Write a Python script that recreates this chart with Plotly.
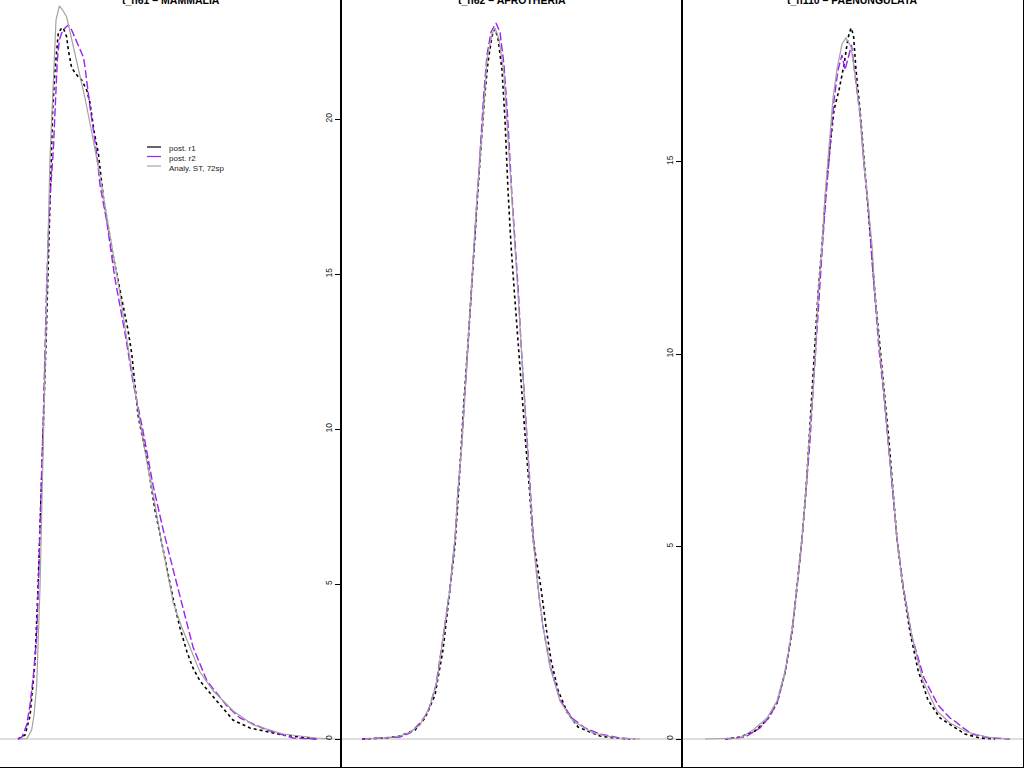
import plotly.graph_objects as go

# ---------------- data ----------------
titles = ["t_n61 – MAMMALIA", "t_n62 – AFROTHERIA", "t_n110 – PAENUNGULATA"]
legend_labels = ["post. r1", "post. r2", "Analy. ST, 72sp"]
ticks_afro = [0, 5, 10, 15, 20]
ticks_paen = [0, 5, 10, 15]

# Panel 1: MAMMALIA
mam_r1_x = [1.654, 1.675, 1.690, 1.705, 1.714, 1.725, 1.730, 1.738, 1.745, 1.750, 1.758, 1.765, 1.770,
            1.775, 1.785, 1.790, 1.800, 1.805, 1.815, 1.835, 1.845, 1.860, 1.870, 1.883, 1.895, 1.910,
            1.924, 1.939, 1.954, 1.969, 1.984, 1.995, 2.005, 2.014, 2.026, 2.040, 2.053, 2.065, 2.089,
            2.119, 2.140, 2.161, 2.179, 2.200, 2.230, 2.251, 2.275, 2.299, 2.350, 2.395, 2.449, 2.500, 2.551]
mam_r1_y = [0.000, 0.016, 0.092, 0.308, 0.604, 0.996, 1.252, 1.584, 1.936, 2.156, 2.516, 2.676, 2.756,
            2.824, 2.844, 2.844, 2.808, 2.756, 2.684, 2.648, 2.636, 2.596, 2.544, 2.424, 2.344, 2.168,
            2.056, 1.936, 1.836, 1.740, 1.636, 1.544, 1.396, 1.296, 1.216, 1.132, 1.016, 0.916, 0.760,
            0.564, 0.444, 0.348, 0.284, 0.232, 0.184, 0.152, 0.112, 0.076, 0.044, 0.032, 0.016, 0.008, 0.000]

mam_r2_x = [1.654, 1.666, 1.680, 1.690, 1.700, 1.710, 1.715, 1.720, 1.725, 1.730, 1.735, 1.740, 1.745,
            1.750, 1.760, 1.765, 1.768, 1.772, 1.778, 1.785, 1.795, 1.805, 1.815, 1.825, 1.840, 1.850,
            1.855, 1.862, 1.870, 1.880, 1.890, 1.900, 1.920, 1.945, 1.975, 1.999, 2.029, 2.059, 2.089,
            2.119, 2.149, 2.179, 2.221, 2.281, 2.320, 2.401, 2.479, 2.551]
mam_r2_y = [0.000, 0.008, 0.056, 0.136, 0.252, 0.408, 0.604, 0.800, 1.072, 1.288, 1.584, 1.820, 2.016,
            2.164, 2.356, 2.516, 2.608, 2.716, 2.796, 2.824, 2.844, 2.856, 2.836, 2.804, 2.756, 2.728,
            2.688, 2.608, 2.528, 2.436, 2.344, 2.216, 2.072, 1.840, 1.624, 1.428, 1.232, 1.016, 0.840,
            0.680, 0.524, 0.368, 0.232, 0.132, 0.084, 0.036, 0.004, 0.000]

mam_st_x = [1.660, 1.681, 1.695, 1.702, 1.710, 1.720, 1.730, 1.740, 1.750, 1.758, 1.763, 1.768, 1.778,
            1.786, 1.800, 1.815, 1.835, 1.855, 1.875, 1.900, 1.920, 1.940, 1.960, 1.980, 2.000, 2.020,
            2.040, 2.060, 2.080, 2.100, 2.120, 2.145, 2.170, 2.200, 2.240, 2.300, 2.360, 2.450, 2.550, 2.590]
mam_st_y = [0.000, 0.002, 0.036, 0.096, 0.212, 0.604, 1.192, 1.780, 2.328, 2.564, 2.760, 2.876, 2.932,
            2.920, 2.888, 2.800, 2.680, 2.564, 2.428, 2.252, 2.092, 1.936, 1.780, 1.604, 1.428, 1.268,
            1.112, 0.976, 0.820, 0.680, 0.544, 0.448, 0.368, 0.268, 0.192, 0.112, 0.056, 0.020, 0.004, 0.000]

# Panel 2: AFROTHERIA
afr_r1_x = [0.821, 0.844, 0.859, 0.874, 0.884, 0.894, 0.902, 0.909, 0.914, 0.917, 0.920, 0.923, 0.927,
            0.930, 0.933, 0.9365, 0.940, 0.9435, 0.947, 0.951, 0.954, 0.957, 0.961, 0.964, 0.967, 0.970,
            0.9735, 0.977, 0.981, 0.9845, 0.9885, 0.992, 1.000, 1.005, 1.010, 1.017, 1.026, 1.037,
            1.049, 1.059, 1.074, 1.089]
afr_r1_y = [0.000, 0.032, 0.097, 0.290, 0.677, 1.419, 2.871, 4.742, 6.258, 7.710, 9.484, 10.935, 12.774,
            14.355, 15.935, 17.516, 19.097, 20.677, 21.839, 22.677, 22.903, 22.613, 21.581, 19.968, 17.710,
            15.935, 14.355, 12.774, 11.194, 9.613, 8.032, 6.452, 4.871, 3.613, 2.548, 1.581, 0.871, 0.387,
            0.226, 0.097, 0.032, 0.000]

afr_r2_x = [0.821, 0.839, 0.859, 0.869, 0.879, 0.887, 0.895, 0.902, 0.909, 0.914, 0.917, 0.921, 0.924,
            0.927, 0.930, 0.933, 0.936, 0.9395, 0.9425, 0.946, 0.950, 0.955, 0.959, 0.963, 0.9665, 0.971,
            0.9743, 0.9775, 0.980, 0.9833, 0.986, 0.9893, 0.9925, 0.997, 1.002, 1.009, 1.019, 1.031,
            1.044, 1.059, 1.079, 1.094]
afr_r2_y = [0.000, 0.032, 0.065, 0.194, 0.516, 0.871, 1.742, 3.258, 4.871, 6.452, 8.032, 9.613, 11.194,
            12.774, 14.355, 15.935, 17.516, 19.097, 20.677, 22.065, 22.806, 23.097, 22.806, 21.742, 20.129,
            17.516, 15.935, 14.355, 12.774, 11.194, 9.613, 8.032, 6.452, 4.871, 3.613, 2.387, 1.258, 0.677,
            0.355, 0.161, 0.032, 0.000]

afr_st_x = [0.824, 0.849, 0.859, 0.869, 0.879, 0.889, 0.896, 0.902, 0.909, 0.914, 0.917, 0.921, 0.924,
            0.927, 0.930, 0.933, 0.936, 0.940, 0.943, 0.946, 0.951, 0.954, 0.958, 0.963, 0.966, 0.971,
            0.974, 0.977, 0.980, 0.983, 0.986, 0.989, 0.992, 0.997, 1.002, 1.009, 1.019, 1.032, 1.052,
            1.076, 1.099]
afr_st_y = [0.000, 0.048, 0.097, 0.226, 0.452, 1.065, 1.871, 3.290, 4.871, 6.452, 8.032, 9.613, 11.194,
            12.774, 14.355, 15.935, 17.516, 19.097, 20.677, 21.935, 22.742, 22.935, 22.581, 21.452, 19.871,
            17.516, 15.935, 14.355, 12.774, 11.194, 9.613, 8.032, 6.452, 4.871, 3.613, 2.323, 1.226, 0.581,
            0.194, 0.032, 0.000]

# Panel 3: PAENUNGULATA
pae_r1_x = [0.543, 0.558, 0.573, 0.585, 0.595, 0.603, 0.610, 0.615, 0.620, 0.624, 0.627, 0.6305, 0.633,
            0.636, 0.640, 0.6435, 0.648, 0.652, 0.657, 0.662, 0.666, 0.669, 0.6715, 0.674, 0.678, 0.682,
            0.686, 0.6895, 0.6935, 0.698, 0.703, 0.707, 0.711, 0.715, 0.721, 0.728, 0.736, 0.746, 0.758,
            0.773, 0.783, 0.798, 0.813]
pae_r1_y = [0.000, 0.052, 0.208, 0.494, 0.935, 1.714, 2.753, 3.922, 5.195, 6.468, 7.740, 9.013, 10.286,
            11.558, 12.831, 14.104, 15.377, 16.338, 16.857, 17.506, 18.208, 18.468, 18.286, 17.377, 16.338,
            14.987, 13.844, 12.701, 11.403, 10.234, 8.805, 7.740, 6.468, 5.195, 3.922, 2.779, 1.792, 1.013,
            0.545, 0.286, 0.130, 0.026, 0.000]

pae_r2_x = [0.543, 0.563, 0.578, 0.588, 0.596, 0.603, 0.610, 0.615, 0.620, 0.624, 0.628, 0.631, 0.634,
            0.637, 0.6405, 0.644, 0.648, 0.652, 0.656, 0.660, 0.663, 0.666, 0.6695, 0.673, 0.678, 0.682,
            0.6865, 0.690, 0.6935, 0.697, 0.7015, 0.706, 0.7107, 0.715, 0.7215, 0.730, 0.742, 0.756,
            0.768, 0.774, 0.780, 0.790, 0.808, 0.828]
pae_r2_y = [0.000, 0.052, 0.286, 0.597, 1.013, 1.740, 2.831, 3.922, 5.195, 6.468, 7.740, 9.013, 10.286,
            11.558, 12.831, 14.104, 15.377, 16.597, 17.377, 17.766, 17.377, 17.688, 18.026, 17.247, 16.208,
            14.909, 13.740, 12.442, 11.143, 10.104, 9.013, 7.740, 6.468, 5.195, 3.922, 2.649, 1.584, 0.883,
            0.545, 0.442, 0.312, 0.130, 0.026, 0.000]

pae_st_x = [0.523, 0.558, 0.571, 0.585, 0.595, 0.603, 0.610, 0.615, 0.620, 0.624, 0.627, 0.631, 0.634,
            0.636, 0.640, 0.643, 0.647, 0.651, 0.655, 0.660, 0.664, 0.669, 0.673, 0.678, 0.682, 0.686,
            0.690, 0.693, 0.697, 0.702, 0.706, 0.711, 0.715, 0.721, 0.730, 0.741, 0.755, 0.768, 0.785,
            0.805, 0.828]
pae_st_y = [0.000, 0.026, 0.234, 0.545, 0.987, 1.740, 2.779, 3.922, 5.195, 6.468, 7.740, 9.013, 10.286,
            11.558, 12.831, 14.104, 15.377, 16.649, 17.403, 18.052, 18.208, 17.974, 17.273, 16.260, 14.987,
            13.844, 12.831, 11.558, 10.286, 9.013, 7.740, 6.468, 5.195, 3.922, 2.649, 1.506, 0.727, 0.416,
            0.182, 0.052, 0.000]

# ---------------- styling ----------------
FONT = "Liberation Sans, Arial, Helvetica, sans-serif"
C_R1 = "#000000"
C_R2 = "#A020F0"
C_ST = "#A3A3A3"
C_ZERO = "#BEBEBE"

W, H = 1024, 768
dom_x = [[0, 341 / W], [341 / W, 682 / W], [682 / W, 1023 / W]]
dom_y = [1 / H, 1.0]

panels = [
    (mam_r1_x, mam_r1_y, mam_r2_x, mam_r2_y, mam_st_x, mam_st_y),
    (afr_r1_x, afr_r1_y, afr_r2_x, afr_r2_y, afr_st_x, afr_st_y),
    (pae_r1_x, pae_r1_y, pae_r2_x, pae_r2_y, pae_st_x, pae_st_y),
]
x_ranges = [[1.6, 2.623], [0.8, 1.141], [0.5, 0.841]]
y_ranges = [[-0.112, 2.956], [-0.903, 23.839], [-0.727, 19.195]]
y_ticks = [None, ticks_afro, ticks_paen]

fig = go.Figure()
for i, (r1x, r1y, r2x, r2y, stx, sty) in enumerate(panels):
    xa = "x" if i == 0 else f"x{i+1}"
    ya = "y" if i == 0 else f"y{i+1}"
    fig.add_trace(go.Scatter(x=r1x, y=r1y, mode="lines", xaxis=xa, yaxis=ya, name=legend_labels[0],
                             line=dict(color=C_R1, width=1.6, dash="dot"), showlegend=False))
    fig.add_trace(go.Scatter(x=r2x, y=r2y, mode="lines", xaxis=xa, yaxis=ya, name=legend_labels[1],
                             line=dict(color=C_R2, width=1.4, dash="8px,3px"), showlegend=False))
    fig.add_trace(go.Scatter(x=stx, y=sty, mode="lines", xaxis=xa, yaxis=ya, name=legend_labels[2],
                             line=dict(color=C_ST, width=1.2), showlegend=False))

layout = dict(
    width=W, height=H, margin=dict(l=0, r=0, t=0, b=0),
    paper_bgcolor="white", plot_bgcolor="white", showlegend=False,
    font=dict(family=FONT, color="#000000"),
)
axis_common = dict(showgrid=False, zeroline=False, showline=True, mirror=True,
                   linecolor="black", linewidth=1)
for i in range(3):
    xk = "xaxis" if i == 0 else f"xaxis{i+1}"
    yk = "yaxis" if i == 0 else f"yaxis{i+1}"
    xa = "x" if i == 0 else f"x{i+1}"
    ya = "y" if i == 0 else f"y{i+1}"
    layout[xk] = dict(domain=dom_x[i], range=x_ranges[i], anchor=ya, showticklabels=False,
                      ticks="", **axis_common)
    yd = dict(domain=dom_y, range=y_ranges[i], anchor=xa, **axis_common)
    if y_ticks[i] is None:
        yd.update(showticklabels=False, ticks="")
    else:
        yd.update(tickmode="array", tickvals=y_ticks[i], ticktext=[str(t) for t in y_ticks[i]],
                  ticks="outside", ticklen=5, tickwidth=1, tickcolor="black",
                  tickangle=-90, tickfont=dict(size=8.5, color="#222222", family=FONT))
    layout[yk] = yd
fig.update_layout(**layout)

shapes = []
annotations = []
for i in range(3):
    xa = "x" if i == 0 else f"x{i+1}"
    ya = "y" if i == 0 else f"y{i+1}"
    # zero line of the density plot
    shapes.append(dict(type="line", xref=f"{xa} domain", yref=ya, x0=0, x1=1, y0=0, y1=0,
                       line=dict(color=C_ZERO, width=1), layer="below"))
    annotations.append(dict(text=f"<b>{titles[i]}</b>", xref="paper", yref="paper",
                            x=(dom_x[i][0] + dom_x[i][1]) / 2, y=1, xanchor="center",
                            yanchor="bottom", yshift=-8, showarrow=False,
                            font=dict(size=10.5, family=FONT, color="black")))

# legend (inside first panel)
leg_colors = [C_R1, C_R2, C_ST]
leg_line_py = [147, 156.5, 166]
leg_text_py = [149, 158.5, 168]
for lbl, col, lpy, tpy in zip(legend_labels, leg_colors, leg_line_py, leg_text_py):
    shapes.append(dict(type="line", xref="paper", yref="paper", x0=147 / W, x1=161 / W,
                       y0=1 - lpy / H, y1=1 - lpy / H, line=dict(color=col, width=1.2)))
    annotations.append(dict(text=lbl, xref="paper", yref="paper", x=167 / W, y=1 - tpy / H,
                            xanchor="left", yanchor="middle", showarrow=False,
                            font=dict(size=8, family=FONT, color="#222222")))

fig.update_layout(shapes=shapes, annotations=annotations)
fig.write_html("out.html")
